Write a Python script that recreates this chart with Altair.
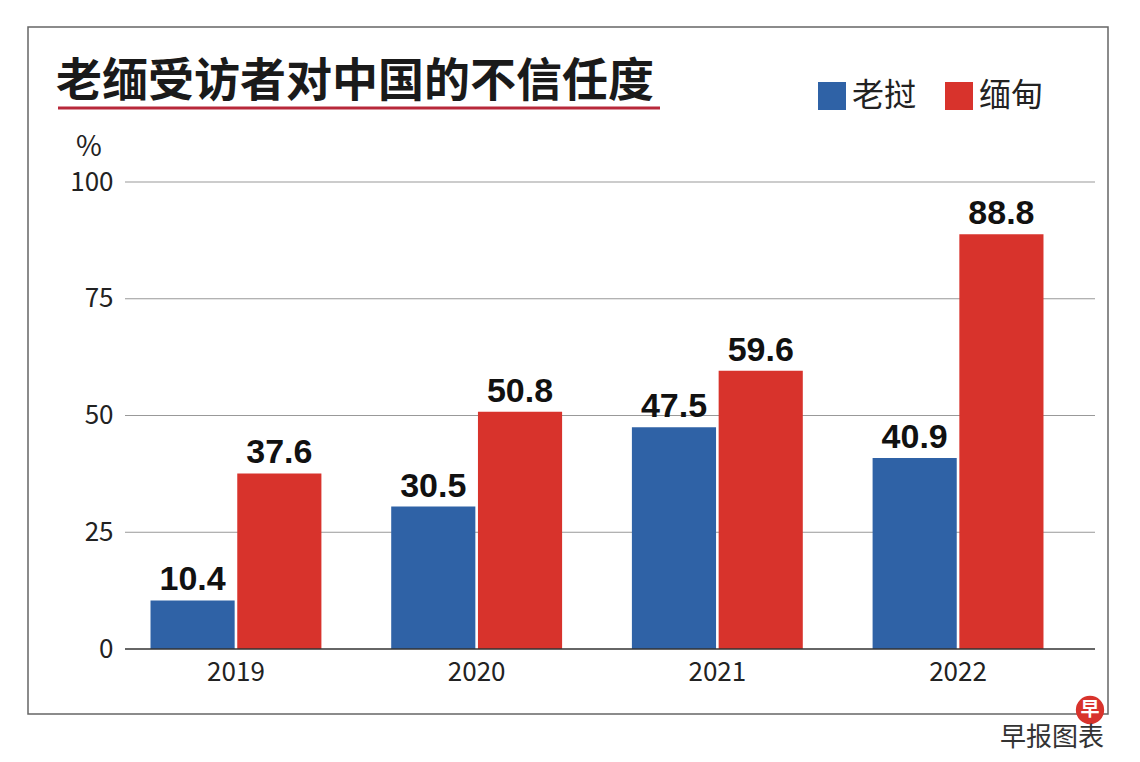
import pandas as pd
import altair as alt

years = ["2019", "2020", "2021", "2022"]
laos = [10.4, 30.5, 47.5, 40.9]
myanmar = [37.6, 50.8, 59.6, 88.8]
countries = ["老挝", "缅甸"]
colors = ["#2f62a6", "#d8332c"]
ticks = [25, 50, 75, 100]

rows = []
for i, y in enumerate(years):
    rows.append({"year": y, "country": "老挝", "v": laos[i]})
    rows.append({"year": y, "country": "缅甸", "v": myanmar[i]})
df = pd.DataFrame(rows)

FONT = "Noto Sans CJK SC"
OX, OY = 125, 182  # plot origin on the page

def px(x):
    return x - OX

def py(y):
    return y - OY

yscale = alt.Scale(domain=[0, 100])

base = alt.Chart(df).encode(
    x=alt.X("year:N", title=None, sort=years,
            scale=alt.Scale(paddingInner=0.29, paddingOuter=0.106, range=[0, 944]),
            axis=alt.Axis(labelAngle=0, labelFontSize=26, labelColor="#222", labelFont=FONT,
                          domain=False, ticks=False, labelPadding=10)),
    xOffset=alt.XOffset("country:N", sort=countries, scale=alt.Scale(paddingInner=0.03)),
)

grid = alt.Chart(pd.DataFrame({"t": ticks})).mark_rule(color="#999", strokeWidth=1).encode(
    y=alt.Y("t:Q", scale=yscale), x=alt.value(0), x2=alt.value(970))

zero = alt.Chart(pd.DataFrame({"t": [0]})).mark_rule(color="#333", strokeWidth=1.5).encode(
    y=alt.Y("t:Q", scale=yscale), x=alt.value(0), x2=alt.value(970))

bars = base.mark_bar().encode(
    y=alt.Y("v:Q", title=None, scale=yscale,
            axis=alt.Axis(values=[0, 25, 50, 75, 100], domain=False, ticks=False, grid=False,
                          labelFontSize=26, labelColor="#222", labelFont=FONT, labelPadding=12)),
    color=alt.Color("country:N", sort=countries, scale=alt.Scale(domain=countries, range=colors),
                    legend=None),
)

labels = base.mark_text(baseline="bottom", dy=-3, fontSize=34, fontWeight="bold",
                        font="Liberation Sans", color="#111").encode(
    y="v:Q", text=alt.Text("v:Q", format=".1f"))

one = alt.Chart(pd.DataFrame({"a": [0]}))

border = one.mark_rect(fill=None, stroke="#666", strokeWidth=1.5).encode(
    x=alt.value(px(28)), x2=alt.value(px(1108)), y=alt.value(py(27)), y2=alt.value(py(714)))

title = one.mark_text(text="老缅受访者对中国的不信任度", align="left", baseline="alphabetic",
                      fontSize=46, fontWeight="bold", font=FONT, color="#1a1a1a").encode(
    x=alt.value(px(56)), y=alt.value(py(96)))

underline = one.mark_rule(color="#b8283a", strokeWidth=3).encode(
    x=alt.value(px(58)), x2=alt.value(px(660)), y=alt.value(py(108)))

pct = one.mark_text(text="%", align="left", fontSize=28, font=FONT, color="#222").encode(
    x=alt.value(px(76)), y=alt.value(py(148)))

leg_sq = []
leg_tx = []
for i, (c, col) in enumerate(zip(countries, colors)):
    x0 = 818 + i * 127
    leg_sq.append(one.mark_rect(fill=col).encode(
        x=alt.value(px(x0)), x2=alt.value(px(x0 + 28)), y=alt.value(py(82)), y2=alt.value(py(110))))
    leg_tx.append(one.mark_text(text=c, align="left", baseline="middle", fontSize=32,
                                font=FONT, color="#222").encode(
        x=alt.value(px(x0 + 34)), y=alt.value(py(96))))

credit = one.mark_text(text="早报图表", align="right", baseline="middle", fontSize=26,
                       font=FONT, color="#333").encode(
    x=alt.value(px(1104)), y=alt.value(py(738)))
logo = one.mark_circle(color="#d8332c", size=800, opacity=1).encode(
    x=alt.value(px(1090)), y=alt.value(py(710)))
logo_t = one.mark_text(text="早", fontSize=19, fontWeight="bold", font=FONT, color="white",
                       baseline="middle").encode(x=alt.value(px(1090)), y=alt.value(py(710)))

chart = alt.layer(border, grid, bars, zero, labels, title, underline, pct, *leg_sq, *leg_tx,
                  logo, logo_t, credit).properties(
    width=970, height=467,
    autosize=alt.AutoSizeParams(type="none"),
    padding={"left": OX - 8, "top": OY - 8, "right": 30, "bottom": 100},
    background="white",
).configure_view(stroke=None)

chart.save("out.html", embed_options={"renderer": "svg", "actions": False})
